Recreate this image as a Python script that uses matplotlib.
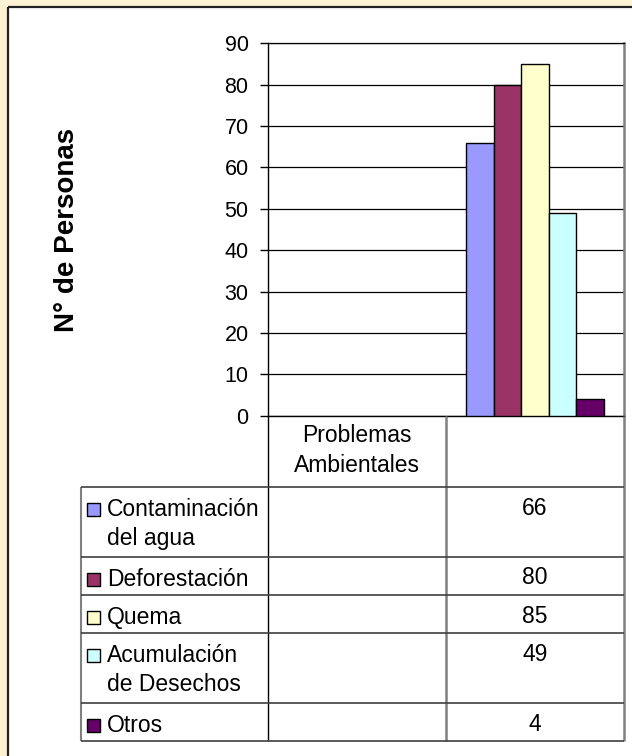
import matplotlib
matplotlib.use("Agg")
import matplotlib.pyplot as plt
from matplotlib.patches import Rectangle
import numpy as np

# ---- data ----
categories = ["Problemas\nAmbientales", ""]
series_names = ["Contaminación\ndel agua", "Deforestación", "Quema",
                "Acumulación\nde Desechos", "Otros"]
series_values = [
    [np.nan, 66],
    [np.nan, 80],
    [np.nan, 85],
    [np.nan, 49],
    [np.nan, 4],
]
series_colors = ["#9999FF", "#993366", "#FFFFCC", "#CCFFFF", "#660066"]
y_ticks = [0, 10, 20, 30, 40, 50, 60, 70, 80, 90]
y_label = "N° de Personas"

plt.rcParams['font.family'] = ['Liberation Sans', 'DejaVu Sans']

W, H = 632, 756
fig = plt.figure(figsize=(W / 100, H / 100), dpi=100, facecolor='#FEF2D5')

def px(x0, y0, x1, y1):
    return [x0 / W, 1 - y1 / H, (x1 - x0) / W, (y1 - y0) / H]

# white chart panel with dark left/top border
overlay = fig.add_axes([0, 0, 1, 1], zorder=0)
overlay.set_xlim(0, W)
overlay.set_ylim(H, 0)
overlay.axis('off')
overlay.add_patch(Rectangle((7, 6), W, H, facecolor='white', edgecolor='none'))
overlay.plot([7.5, 7.5], [6.5, H + 5], color='#222222', lw=1.6, solid_capstyle='butt')
overlay.plot([7.5, W + 5], [6.5, 6.5], color='#222222', lw=1.6, solid_capstyle='butt')

# plot area
PL, PT, PR, PB = 268, 43.3, 624, 415.7
ax = fig.add_axes(px(PL, PT, PR, PB), zorder=2)
ax.set_facecolor('white')
ncat = len(categories)
nser = len(series_values)
group = 0.7725
w = group / nser
x = np.arange(ncat)
for i, (vals, col) in enumerate(zip(series_values, series_colors)):
    ax.bar(x + (i - (nser - 1) / 2) * w, vals, width=w, color=col,
           edgecolor='black', linewidth=1.0, zorder=3)
ax.set_xlim(-0.5, ncat - 0.5)
ax.set_ylim(y_ticks[0], y_ticks[-1])
ax.set_yticks(y_ticks)
ax.yaxis.grid(True, color='black', linewidth=0.9)
ax.set_axisbelow(True)
ax.set_xticks([])
ax.tick_params(axis='y', direction='out', length=6, width=1, pad=8,
               labelsize=15.5, color='black')
ax.spines['left'].set_color('black')
ax.spines['left'].set_linewidth(1.0)
ax.spines['bottom'].set_color('black')
ax.spines['bottom'].set_linewidth(1.0)
ax.spines['top'].set_color('black')
ax.spines['top'].set_linewidth(0.9)
ax.spines['right'].set_color('#808080')
ax.spines['right'].set_linewidth(1.8)

fig.text(67 / W, 1 - 229.5 / H, y_label, rotation=90, ha='center', va='center',
         fontsize=20, fontweight='bold')

# ---- data table ----
tab = fig.add_axes([0, 0, 1, 1], zorder=3)
tab.set_xlim(0, W)
tab.set_ylim(H, 0)
tab.axis('off')
TL = 80.7
col_edges = [PL, PL + (PR - PL) / ncat, PR]
header_h = 71.3
line_h = 31.2
single_h = 38.3
fs = 16.5
lc = '#404040'

row_tops = []
y = PB + header_h
for name in series_names:
    row_tops.append(y)
    nlines = name.count("\n") + 1
    y += single_h + (nlines - 1) * line_h
table_bottom = y

# header text
for j, cat in enumerate(categories):
    cx = (col_edges[j] + col_edges[j + 1]) / 2
    for k, line in enumerate(cat.split("\n")):
        tab.text(cx, PB + 26 + k * 30, line, ha='center', va='baseline', fontsize=fs)

# grid lines
for xe in col_edges:
    tab.plot([xe, xe], [PB, table_bottom], color=('black' if xe == PL else '#808080'),
             lw=(1.0 if xe == PL else 1.8), solid_capstyle='butt')
tab.plot([TL, TL], [PB + header_h, table_bottom], color='#808080', lw=1.5, solid_capstyle='butt')
for yt in row_tops + [table_bottom]:
    tab.plot([TL, PR], [yt, yt], color=lc, lw=1.2, solid_capstyle='butt')

# rows
for rt, name, vals, col in zip(row_tops, series_names, series_values, series_colors):
    tab.add_patch(Rectangle((87, rt + 16), 13, 13, facecolor=col, edgecolor='black', lw=1.0))
    for k, line in enumerate(name.split("\n")):
        tab.text(107, rt + 29 + k * 29, line, ha='left', va='baseline', fontsize=fs)
    for j, v in enumerate(vals):
        if not np.isnan(v):
            cx = (col_edges[j] + col_edges[j + 1]) / 2
            tab.text(cx, rt + 28, f"{v:g}", ha='center', va='baseline', fontsize=fs)

fig.savefig("out.png", dpi=100, facecolor=fig.get_facecolor())
